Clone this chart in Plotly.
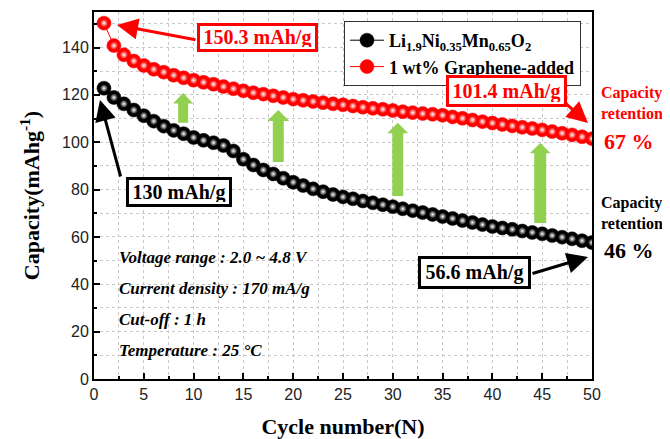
import plotly.graph_objects as go

# ---------------- data ----------------
cycles = list(range(1, 51))

pristine = [122.8, 118.9, 116.2, 113.6, 111.2, 108.9, 106.8, 105.0, 103.6, 102.0,
            100.8, 99.8, 98.6, 96.3, 92.8, 90.4, 88.3, 86.6, 84.8, 83.1,
            81.7, 80.3, 79.1, 77.9, 76.9, 76.1, 75.2, 74.4, 73.6, 72.8,
            71.9, 71.1, 70.3, 69.5, 68.6, 67.8, 66.9, 66.1, 65.2, 64.4,
            63.8, 63.2, 62.5, 61.9, 61.3, 60.6, 59.9, 59.2, 58.4, 57.6]

graphene = [150.3, 140.8, 136.9, 134.3, 132.4, 130.8, 129.6, 128.3, 127.2, 126.2,
            125.3, 124.5, 123.5, 122.6, 121.7, 120.9, 120.3, 119.6, 118.9, 118.2,
            117.7, 117.2, 116.7, 116.2, 115.8, 115.3, 114.8, 114.3, 113.9, 113.4,
            112.9, 112.5, 112.1, 111.8, 111.4, 110.7, 110.1, 109.4, 108.7, 108.1,
            107.5, 106.9, 106.3, 105.8, 105.2, 104.5, 103.8, 103.1, 102.3, 101.5]

series_names = ["<b>Li<sub>1.9</sub>Ni<sub>0.35</sub>Mn<sub>0.65</sub>O<sub>2</sub></b>",
                "<b>1 wt% Graphene-added</b>"]

x_ticks = [0, 5, 10, 15, 20, 25, 30, 35, 40, 45, 50]
y_ticks = [0, 20, 40, 60, 80, 100, 120, 140]

conditions = ["Voltage range : 2.0 ~ 4.8 V",
              "Current density : 170 mA/g",
              "Cut-off : 1 h",
              "Temperature : 25 °C"]

# ---------------- layout helpers ----------------
# the page body has an 8px margin, so the figure starts at (8, 8)
OFF = 8
W, H = 670 - OFF, 439 - OFF
X0, X1, Y0, Y1 = 94, 592, 12, 379          # plot area in window pixels
L, T = X0 - OFF, Y0 - OFF
R, B = W - (X1 - OFF), H - (Y1 - OFF)


def pp(xp, yp):
    """window pixel position -> paper coords"""
    return (xp - X0) / (X1 - X0), (Y1 - yp) / (Y1 - Y0)


SERIF = "Liberation Serif, Times New Roman, serif"
SANS = "Liberation Sans, Arial, sans-serif"
RED = "#ff0000"
GREEN = "#92d050"

fig = go.Figure()

for ys, col, name in [(pristine, "#000000", series_names[0]),
                      (graphene, RED, series_names[1])]:
    fig.add_trace(go.Scatter(
        x=cycles, y=ys, mode="lines+markers", name=name,
        line=dict(color=col, width=1),
        marker=dict(size=14, color=col, line=dict(color=col, width=0.5)),
    ))
    fig.add_trace(go.Scatter(
        x=cycles, y=ys, mode="markers", showlegend=False, hoverinfo="skip",
        marker=dict(size=8, color=col,
                    gradient=dict(type="radial", color="#ffffff"),
                    line=dict(width=0)),
    ))

# green "improvement" arrows (decoration, data coords)
green_arrows = [  # x-centre, tip, head base, bottom, shaft half-width, head half-width
    (8.95, 120.8, 116.4, 108.2, 0.50, 1.0),
    (18.5, 113.6, 109.0, 91.7, 0.55, 1.1),
    (30.5, 108.2, 103.8, 77.3, 0.55, 1.05),
    (44.8, 99.7, 95.3, 65.9, 0.60, 1.05),
]
for xc, yt, yh, yb, sw, hw in green_arrows:
    path = (f"M {xc-sw},{yb} L {xc-sw},{yh} L {xc-hw},{yh} L {xc},{yt} "
            f"L {xc+hw},{yh} L {xc+sw},{yh} L {xc+sw},{yb} Z")
    fig.add_shape(type="path", path=path, xref="x", yref="y",
                  fillcolor=GREEN, line=dict(width=0), layer="above")

ann = []

# boxed value labels
for text, col, cx, cy, w, h in [("150.3 mAh/g", RED, 257.5, 37.5, 111, 19),
                                ("130 mAh/g", "#000000", 179, 192, 96, 20),
                                ("101.4 mAh/g", RED, 506.5, 91, 111, 22),
                                ("56.6 mAh/g", "#000000", 474.5, 272.5, 103, 23)]:
    x, y = pp(cx, cy)
    ann.append(dict(x=x, y=y, xref="paper", yref="paper", showarrow=False,
                    text=f"<b>{text}</b>", font=dict(family=SERIF, size=20, color=col),
                    bgcolor="white", bordercolor=col, borderwidth=3, borderpad=2,
                    width=w, height=h, xanchor="center", yanchor="middle"))

# arrows from boxes to points
for col, tip, tail in [(RED, (117, 25), (197, 40)),
                       ("#000000", (100, 100), (121, 178)),
                       (RED, (588, 123), (563, 101)),
                       ("#000000", (588, 257), (531, 274))]:
    x, y = pp(*tip)
    ann.append(dict(x=x, y=y, xref="paper", yref="paper", text="",
                    showarrow=True, ax=tail[0] - tip[0], ay=tail[1] - tip[1],
                    arrowhead=2, arrowsize=1.4, arrowwidth=3, arrowcolor=col))

# capacity retention labels
for col, y1, y2, pct in [(RED, 103, 141, "67 %"), ("#000000", 213, 250, "46 %")]:
    x, y = pp(599, y1)
    ann.append(dict(x=x, y=y, xref="paper", yref="paper", showarrow=False,
                    text="<b>Capacity<br>retention</b>", align="left",
                    font=dict(family=SERIF, size=16, color=col),
                    xanchor="left", yanchor="middle"))
    x, y = pp(602, y2)
    ann.append(dict(x=x, y=y, xref="paper", yref="paper", showarrow=False,
                    text=f"<b>{pct}</b>", font=dict(family=SERIF, size=22, color=col),
                    xanchor="left", yanchor="middle"))

# test conditions
for i, line in enumerate(conditions):
    x, y = pp(117, 257 + i * 31)
    ann.append(dict(x=x, y=y, xref="paper", yref="paper", showarrow=False,
                    text=f"<b><i>{line}</i></b>",
                    font=dict(family=SERIF, size=17, color="#000000"),
                    xanchor="left", yanchor="middle"))

grid = dict(showgrid=True, gridcolor="#c8c8c8", griddash="dot", gridwidth=1)

fig.update_layout(
    width=W, height=H,
    margin=dict(l=L, r=R, t=T, b=B, autoexpand=False),
    paper_bgcolor="white", plot_bgcolor="white",
    showlegend=True,
    legend=dict(x=pp(581, 0)[0], y=pp(0, 21)[1], xanchor="right", yanchor="top",
                bgcolor="white", bordercolor="#333333", borderwidth=1,
                font=dict(family=SERIF, size=18, color="#000000"),
                itemwidth=34, tracegroupgap=0),
    annotations=ann,
    xaxis=dict(range=[0, 50], tickvals=x_ticks, ticks="inside", ticklen=6,
               tickwidth=1.5, tickcolor="black",
               showline=True, linecolor="black", linewidth=2, mirror=True,
               tickfont=dict(family=SANS, size=16, color="#222222"),
               minor=dict(dtick=2.5, ticks="inside", ticklen=3, tickcolor="black",
                          showgrid=True, gridcolor="#c8c8c8", griddash="dot"),
               title=dict(text="<b>Cycle number(N)</b>", standoff=17,
                          font=dict(family=SERIF, size=22, color="black")),
               zeroline=False, **grid),
    yaxis=dict(range=[0, 155], tickvals=y_ticks, ticks="inside", ticklen=6,
               tickwidth=1.5, tickcolor="black",
               showline=True, linecolor="black", linewidth=2, mirror=True,
               tickfont=dict(family=SANS, size=16, color="#222222"),
               minor=dict(dtick=10, ticks="inside", ticklen=3, tickcolor="black",
                          showgrid=True, gridcolor="#c8c8c8", griddash="dot"),
               title=dict(text="<b>Capacity(mAhg<sup>-1</sup>)</b>", standoff=16,
                          font=dict(family=SERIF, size=22, color="black")),
               zeroline=False, **grid),
)

fig.write_html("out.html")
